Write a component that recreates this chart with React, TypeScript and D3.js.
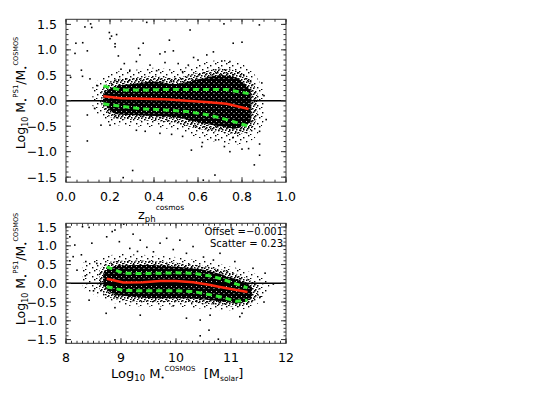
import React, { useEffect, useRef } from 'react';
import * as d3 from 'd3';

// ---- top panel: vs photometric redshift ----
const topBinZ = [0.17, 0.25, 0.35, 0.45, 0.55, 0.65, 0.73, 0.83];
const topMedian = [0.09, 0.05, 0.04, 0.03, 0.0, -0.03, -0.06, -0.16];
const topUpper = [0.29, 0.21, 0.21, 0.22, 0.22, 0.22, 0.22, 0.14];
const topLower = [-0.06, -0.11, -0.16, -0.18, -0.21, -0.28, -0.37, -0.5];

// density envelopes of the point cloud (x, upper, lower)
const topOuterZ = [0.12, 0.16, 0.2, 0.3, 0.4, 0.5, 0.6, 0.7, 0.8, 0.86, 0.9];
const topOuterHi = [0.3, 0.45, 0.55, 0.6, 0.65, 0.62, 0.72, 0.8, 0.72, 0.5, 0.2];
const topOuterLo = [-0.1, -0.35, -0.45, -0.5, -0.52, -0.58, -0.72, -0.82, -0.85, -0.72, -0.4];
const topMidZ = [0.16, 0.2, 0.3, 0.4, 0.5, 0.6, 0.7, 0.78, 0.84, 0.87];
const topMidHi = [0.22, 0.38, 0.45, 0.48, 0.45, 0.55, 0.63, 0.58, 0.42, 0.15];
const topMidLo = [-0.1, -0.32, -0.38, -0.4, -0.44, -0.55, -0.62, -0.65, -0.58, -0.3];
const topCoreZ = [0.17, 0.22, 0.3, 0.4, 0.5, 0.6, 0.7, 0.78, 0.84];
const topCoreHi = [0.15, 0.28, 0.33, 0.38, 0.33, 0.42, 0.5, 0.44, 0.2];
const topCoreLo = [-0.06, -0.25, -0.28, -0.3, -0.33, -0.42, -0.5, -0.54, -0.42];

const topOutliers = [
  [0.045, 1.13], [0.076, 1.14], [0.041, 0.93], [0.097, 0.98], [0.07, 0.6], [0.075, 0.48],
  [0.021, 0.46], [0.109, 0.43], [0.097, -0.28], [0.097, -0.79], [0.086, 1.45], [0.112, 1.51],
  [0.117, 1.44], [0.197, 1.34], [0.207, 1.27], [0.2, 1.22], [0.23, 1.3], [0.223, 1.06],
  [0.223, 1.12], [0.238, 0.88], [0.265, 0.73], [0.29, 0.6], [0.32, 0.77], [0.336, 0.9],
  [0.351, 1.13], [0.33, 1.03], [0.367, 1.54], [0.382, 0.7], [0.427, 0.92], [0.412, 0.59],
  [0.47, 1.19], [0.45, 0.96], [0.488, 0.98], [0.51, 0.73], [0.53, 0.57], [0.556, 0.7],
  [0.564, 1.39], [0.6, 0.8], [0.64, 0.9], [0.67, 0.96], [0.718, 1.51], [0.76, 1.13],
  [0.8, 1.15], [0.879, 1.49], [0.745, 0.77], [0.708, 0.78], [0.26, -1.51], [0.303, -1.37],
  [0.677, -1.46], [0.624, -1.56], [0.856, -1.26], [0.88, -1.07], [0.83, -0.94], [0.617, -0.9],
  [0.745, -1.0], [0.72, -0.9], [0.88, -0.85], [0.57, -0.97], [0.68, -0.77], [0.76, -0.72],
  [0.53, -0.7], [0.427, -0.64], [0.32, -0.58], [0.2, -0.48], [0.159, -0.48], [0.88, -0.6],
  [0.91, -0.37], [0.14, 0.3], [0.13, -0.15], [0.25, 0.62], [0.45, 0.75], [0.58, 0.85],
  [0.36, -0.6], [0.48, -0.66], [0.62, -0.82], [0.8, -0.95], [0.9, 0.1], [0.89, 0.35],
];

// ---- bottom panel: vs COSMOS stellar mass ----
const botBinM = [8.74, 9.04, 9.4, 9.71, 10.0, 10.31, 10.6, 10.8, 11.1, 11.3];
const botMedian = [0.12, 0.02, 0.03, 0.06, 0.06, 0.03, -0.04, -0.1, -0.18, -0.23];
const botUpper = [0.44, 0.27, 0.26, 0.27, 0.28, 0.27, 0.2, 0.13, -0.02, -0.12];
const botLower = [-0.09, -0.19, -0.2, -0.2, -0.2, -0.22, -0.3, -0.36, -0.48, -0.45];

const botOuterM = [8.3, 8.5, 8.7, 9.0, 9.5, 10.0, 10.5, 11.0, 11.4, 11.7];
const botOuterHi = [0.55, 0.62, 0.72, 0.78, 0.75, 0.7, 0.6, 0.45, 0.28, 0.05];
const botOuterLo = [-0.1, -0.3, -0.42, -0.58, -0.62, -0.62, -0.68, -0.72, -0.62, -0.25];
const botMidM = [8.6, 8.75, 9.0, 9.5, 10.0, 10.5, 11.0, 11.3, 11.5];
const botMidHi = [0.35, 0.55, 0.6, 0.6, 0.55, 0.46, 0.3, 0.12, -0.05];
const botMidLo = [-0.15, -0.35, -0.45, -0.5, -0.5, -0.54, -0.62, -0.58, -0.35];
const botCoreM = [8.68, 8.85, 9.2, 9.6, 10.0, 10.5, 10.9, 11.2, 11.38];
const botCoreHi = [0.28, 0.44, 0.48, 0.48, 0.44, 0.36, 0.2, 0.04, -0.1];
const botCoreLo = [-0.05, -0.28, -0.36, -0.4, -0.4, -0.43, -0.5, -0.52, -0.4];

const botOutliers = [
  [8.07, 1.24], [8.16, 1.02], [8.3, 1.51], [8.42, 1.49], [8.47, 1.07], [8.13, 0.71],
  [8.28, 0.76], [8.36, 0.58], [8.56, 0.53], [8.07, 0.6], [8.42, -0.45], [8.73, -0.8],
  [8.89, -1.51], [8.74, 1.24], [8.89, 1.42], [8.84, 1.38], [8.97, 1.11], [9.05, 1.58],
  [9.16, 0.93], [9.22, 1.31], [9.35, 1.15], [9.47, 0.96], [9.59, 0.84], [9.71, 1.07],
  [9.83, 1.2], [9.95, 0.9], [10.07, 1.15], [10.19, 0.8], [10.31, 0.98], [10.68, 0.62],
  [10.8, 0.8], [11.07, 0.58], [11.4, 0.4], [11.62, 0.27], [11.77, -0.02], [11.53, -0.36],
  [10.44, -0.98], [10.62, -0.85], [10.44, -1.4], [10.6, -1.25], [10.77, -1.49], [11.16, -0.89],
  [10.19, -0.93], [9.35, -0.85], [9.71, -0.69], [9.95, -0.6], [8.89, -0.65], [8.2, 0.35],
  [8.35, 0.2], [8.5, -0.2], [9.3, 0.85], [10.5, 0.7], [11.2, -0.8], [11.6, -0.5],
];

const annotation = ['Offset =\u22120.001', 'Scatter = 0.23'];

const FONT = "'DejaVu Sans', 'Liberation Sans', sans-serif";
const GREEN = '#33e833';
const RED = '#ff2a10';

type Part = [string, number, number];

function addRich(sel: any, parts: Part[]) {
  let prev = 0;
  parts.forEach(([s, shift, size]) => {
    sel.append('tspan')
      .attr('dy', shift - prev)
      .attr('font-size', size)
      .text(s);
    prev = shift;
  });
}

const App = () => {
  const svgRef = useRef(null);

  useEffect(() => {
    const svg = d3.select(svgRef.current);
    svg.selectAll('*').remove();

    const defs = svg.append('defs');
    const sparse = defs.append('pattern').attr('id', 'sparse')
      .attr('patternUnits', 'userSpaceOnUse').attr('width', 11).attr('height', 9);
    [[1, 2], [6, 0], [4, 6], [9, 4], [8, 8]].forEach(([x, y]) =>
      sparse.append('rect').attr('x', x).attr('y', y).attr('width', 1.4).attr('height', 1.4).attr('fill', '#000'));
    const mid = defs.append('pattern').attr('id', 'mid')
      .attr('patternUnits', 'userSpaceOnUse').attr('width', 7).attr('height', 6);
    [[0, 0], [3, 1], [5, 3], [1, 3.5], [4, 5], [6, 0.5], [2, 2]].forEach(([x, y]) =>
      mid.append('rect').attr('x', x).attr('y', y).attr('width', 1.5).attr('height', 1.5).attr('fill', '#000'));
    const core = defs.append('pattern').attr('id', 'core')
      .attr('patternUnits', 'userSpaceOnUse').attr('width', 5).attr('height', 5);
    core.append('rect').attr('width', 5).attr('height', 5).attr('fill', '#000');
    [[1, 1], [3.5, 3]].forEach(([x, y]) =>
      core.append('rect').attr('x', x).attr('y', y).attr('width', 0.9).attr('height', 0.9).attr('fill', '#fff'));

    const panels = [
      {
        id: 'top',
        xDomain: [0, 1], y0: 182.2, y1: 19.3,
        majorX: d3.range(0, 1.0001, 0.2), minorX: d3.range(0, 1.0001, 0.05),
        xFmt: d3.format('.1f'),
        bands: [
          [topOuterZ, topOuterHi, topOuterLo, 'url(#sparse)'],
          [topMidZ, topMidHi, topMidLo, 'url(#mid)'],
          [topCoreZ, topCoreHi, topCoreLo, 'url(#core)'],
        ],
        outliers: topOutliers,
        bins: topBinZ, median: topMedian, upper: topUpper, lower: topLower,
        yLabelCenter: 93,
      },
      {
        id: 'bot',
        xDomain: [8, 12], y0: 343.3, y1: 223.3,
        majorX: d3.range(8, 12.0001, 1), minorX: d3.range(8, 12.0001, 0.1),
        xFmt: d3.format('d'),
        bands: [
          [botOuterM, botOuterHi, botOuterLo, 'url(#sparse)'],
          [botMidM, botMidHi, botMidLo, 'url(#mid)'],
          [botCoreM, botCoreHi, botCoreLo, 'url(#core)'],
        ],
        outliers: botOutliers,
        bins: botBinM, median: botMedian, upper: botUpper, lower: botLower,
        yLabelCenter: 269,
      },
    ];

    const left = 66, right = 286;

    panels.forEach(p => {
      const x = d3.scaleLinear().domain(p.xDomain).range([left, right]);
      const y = d3.scaleLinear().domain([-1.6, 1.6]).range([p.y0, p.y1]);
      const g = svg.append('g');

      g.append('clipPath').attr('id', `clip-${p.id}`)
        .append('rect').attr('x', left).attr('y', p.y1).attr('width', right - left).attr('height', p.y0 - p.y1);
      const plot = g.append('g').attr('clip-path', `url(#clip-${p.id})`);

      // point cloud density
      p.bands.forEach(([xs, hi, lo, fill]: any) => {
        const area = d3.area<number>()
          .x((d, i) => x(xs[i]))
          .y0((d, i) => y(lo[i]))
          .y1((d, i) => y(hi[i]))
          .curve(d3.curveCatmullRom);
        plot.append('path').attr('d', area(xs)).attr('fill', fill);
      });

      plot.selectAll('.pt')
        .data(p.outliers)
        .enter().append('rect')
        .attr('x', d => x(d[0]) - 0.8)
        .attr('y', d => y(d[1]) - 0.8)
        .attr('width', 1.6)
        .attr('height', 1.6)
        .attr('fill', '#000');

      // zero line
      plot.append('line')
        .attr('x1', left).attr('x2', right)
        .attr('y1', y(0)).attr('y2', y(0))
        .attr('stroke', '#000').attr('stroke-width', 1.5);

      const line = (vals: number[]) => d3.line<number>()
        .x((d, i) => x(p.bins[i]))
        .y(d => y(d))(vals);

      [p.upper, p.lower].forEach(vals => {
        plot.append('path').attr('d', line(vals))
          .attr('fill', 'none').attr('stroke', GREEN)
          .attr('stroke-width', 3).attr('stroke-dasharray', '6,4');
      });
      plot.append('path').attr('d', line(p.median))
        .attr('fill', 'none').attr('stroke', RED).attr('stroke-width', 2.6);

      // frame + ticks on all sides
      g.append('rect')
        .attr('x', left).attr('y', p.y1)
        .attr('width', right - left).attr('height', p.y0 - p.y1)
        .attr('fill', 'none').attr('stroke', '#333').attr('stroke-width', 1);

      const tk = g.append('g').attr('stroke', '#333').attr('stroke-width', 1);
      const xTick = (v: number, len: number) => {
        tk.append('line').attr('x1', x(v)).attr('x2', x(v)).attr('y1', p.y0).attr('y2', p.y0 - len);
        tk.append('line').attr('x1', x(v)).attr('x2', x(v)).attr('y1', p.y1).attr('y2', p.y1 + len);
      };
      const yTick = (v: number, len: number) => {
        tk.append('line').attr('y1', y(v)).attr('y2', y(v)).attr('x1', left).attr('x2', left + len);
        tk.append('line').attr('y1', y(v)).attr('y2', y(v)).attr('x1', right).attr('x2', right - len);
      };
      p.minorX.forEach(v => xTick(v, 2.5));
      p.majorX.forEach(v => xTick(v, 5));
      d3.range(-1.5, 1.5001, 0.1).forEach(v => yTick(v, 2.5));
      const majorY = d3.range(-1.5, 1.5001, 0.5);
      majorY.forEach(v => yTick(v, 5));

      g.selectAll('.xl')
        .data(p.majorX)
        .enter().append('text')
        .attr('x', d => x(d))
        .attr('y', p.y0 + 19)
        .attr('text-anchor', 'middle')
        .attr('font-family', FONT)
        .attr('font-size', 12.5)
        .text(d => p.xFmt(d));

      g.selectAll('.yl')
        .data(majorY)
        .enter().append('text')
        .attr('x', 57)
        .attr('y', d => y(d) + 4.5)
        .attr('text-anchor', 'end')
        .attr('font-family', FONT)
        .attr('font-size', 12.5)
        .text(d => d3.format('.1f')(d));

      const yl = g.append('text')
        .attr('transform', `translate(25,${p.yLabelCenter}) rotate(-90)`)
        .attr('text-anchor', 'middle')
        .attr('font-family', FONT)
        .attr('font-size', 12.5);
      addRich(yl, [
        ['Log', 0, 12.5], ['10', 3, 8], ['\u00a0M', 0, 12.5], ['\u2022', 3, 7],
        ['PS1', -7, 7], ['/M', 0, 12.5], ['\u2022', 3, 7], ['COSMOS', -7, 6.5],
      ]);
    });

    // x axis titles
    const zt = svg.append('text')
      .attr('x', 138).attr('y', 219)
      .attr('font-family', FONT).attr('font-size', 13);
    addRich(zt, [['z', 0, 13], ['ph', 3, 8.5], ['cosmos', -9.5, 7.5]]);

    const mt = svg.append('text')
      .attr('x', 111).attr('y', 378)
      .attr('font-family', FONT).attr('font-size', 13);
    addRich(mt, [
      ['Log', 0, 13], ['10', 3, 8.5], ['\u00a0M', 0, 13], ['\u2022', 2, 7],
      ['COSMOS', -7, 7], ['\u00a0\u00a0[M', 0, 13], ['solar', 3, 7.5], [']', 0, 13],
    ]);

    svg.selectAll('.ann')
      .data(annotation)
      .enter().append('text')
      .attr('x', 283)
      .attr('y', (d, i) => 235 + i * 11.7)
      .attr('text-anchor', 'end')
      .attr('font-family', FONT)
      .attr('font-size', 10)
      .text(d => d);
  }, []);

  return (
    <svg
      ref={svgRef}
      width={550}
      height={405}
      style={{ position: 'absolute', left: 0, top: 0, background: '#fff' }}
    />
  );
};

export default App;
